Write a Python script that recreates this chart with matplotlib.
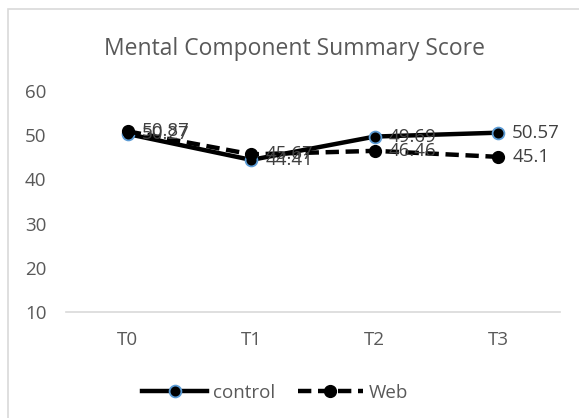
import matplotlib

matplotlib.use("Agg")
import matplotlib.pyplot as plt
from matplotlib.patches import Rectangle

plt.rcParams["font.family"] = ["Open Sans", "DejaVu Sans"]

timepoints = ["T0", "T1", "T2", "T3"]
control = [50.27, 44.41, 49.69, 50.57]
web = [50.87, 45.67, 46.46, 45.1]
y_ticks = [10, 20, 30, 40, 50, 60]

TEXT = "#595959"
LABEL = "#404040"

fig = plt.figure(figsize=(5.79, 4.18), dpi=100)
fig.patches.append(Rectangle((8 / 579, -0.1), 1.2, 1 - 9 / 418 + 0.1, transform=fig.transFigure,
                             fill=False, edgecolor="#D9D9D9", linewidth=1.2))

ax = fig.add_axes([66 / 579, 1 - 312 / 418, 494 / 579, 221 / 418])
x = range(len(timepoints))

ax.plot(x, control, color="black", linewidth=3.2, marker="o", markersize=8.5,
        markerfacecolor="black", markeredgecolor="#5B9BD5", markeredgewidth=1.3,
        label="control", zorder=3)
ax.plot(x, web, color="black", linewidth=3.2, linestyle=(0, (3, 1.5)), marker="o", markersize=8.5,
        markerfacecolor="black", markeredgecolor="black", label="Web", zorder=3)

# value labels sit to the right of each point, as in the spreadsheet export
for xi, val in zip(x, control):
    ax.annotate(f"{val:g}", (xi, val), xytext=(10, 0), textcoords="offset points",
                ha="left", va="center", fontsize=13.5, color=LABEL, zorder=4)
for xi, val in zip(x, web):
    ax.annotate(f"{val:g}", (xi, val), xytext=(10, 0), textcoords="offset points",
                ha="left", va="center", fontsize=13.5, color=LABEL, zorder=4)

ax.set_xlim(-0.5, 3.5)
ax.set_ylim(10, 60)
ax.set_xticks(list(x))
ax.set_xticklabels(timepoints)
ax.set_yticks(y_ticks)
ax.tick_params(axis="both", length=0, labelsize=13.5, colors=TEXT)
ax.tick_params(axis="x", pad=14)
ax.tick_params(axis="y", pad=14)
for side in ["top", "right", "left"]:
    ax.spines[side].set_visible(False)
ax.spines["bottom"].set_color("#D9D9D9")
ax.spines["bottom"].set_linewidth(1.2)
ax.patch.set_alpha(0)

fig.text(295 / 579, 1 - 49 / 418, "Mental Component Summary Score", ha="center", va="center",
         fontsize=16.5, color=TEXT)

fig.legend(loc="center", bbox_to_anchor=(275 / 579, 1 - 393 / 418), ncol=2, frameon=False,
           fontsize=13.5, labelcolor=TEXT, handlelength=3.5, columnspacing=1.2, handletextpad=0.3)

fig.savefig("out.png", dpi=100)
